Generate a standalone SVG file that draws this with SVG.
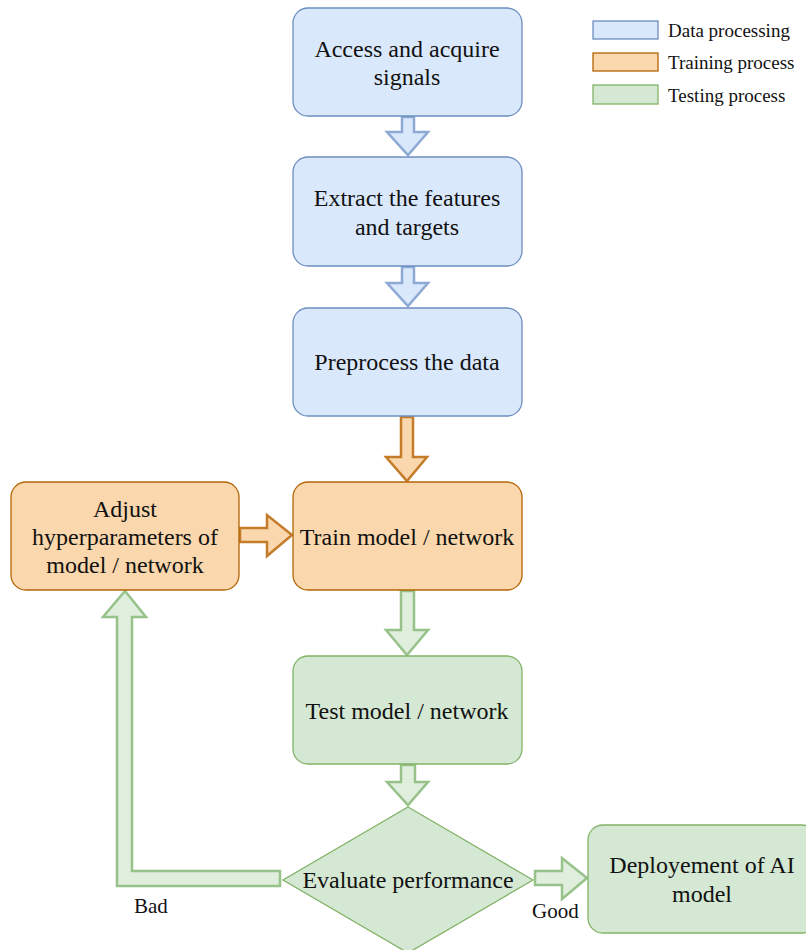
<svg xmlns="http://www.w3.org/2000/svg" width="806" height="950" viewBox="0 0 806 950">
  <style>
    text { font-family: "Liberation Serif", "Times New Roman", serif; fill: #111; }
    .lbl { font-size: 24px; text-anchor: middle; }
    .leg { font-size: 19px; }
    .edge { font-size: 21px; }
    .blue { fill: #dae8fc; stroke: #6c8ebf; stroke-width: 1.3; }
    .orange { fill: #fad7ac; stroke: #b46504; stroke-width: 1.3; }
    .green { fill: #d5e8d4; stroke: #82b366; stroke-width: 1.3; }
    .a-blue { fill: #dae8fc; stroke: #8ea9d4; stroke-width: 2.5; stroke-linejoin: miter; }
    .a-orange { fill: #fad7ac; stroke: #c47b2a; stroke-width: 2.5; stroke-linejoin: miter; }
    .a-green { fill: #dfeedd; stroke: #97c28a; stroke-width: 2.5; stroke-linejoin: miter; }
  </style>

  <!-- legend -->
  <g id="legend">
    <rect x="593" y="21" width="65" height="18" class="blue"/>
    <text x="668" y="37" class="leg">Data processing</text>
    <rect x="593" y="53" width="65" height="18" class="orange"/>
    <text x="668" y="69" class="leg">Training process</text>
    <rect x="593" y="85" width="65" height="19" class="green"/>
    <text x="668" y="102" class="leg">Testing process</text>
  </g>

  <!-- connectors: block arrows -->
  <g id="connectors">
    <path class="a-blue" d="M402,117 H414 V132 H428 L408,155 L387,132 H402 Z"/>
    <path class="a-blue" d="M402,267 H414 V283 H428 L408,306 L387,283 H402 Z"/>
    <path class="a-orange" d="M401,417 H413 V457 H427 L407,481 L386,457 H401 Z"/>
    <path class="a-orange" d="M240,528 H267 V515 L292,535 L267,556 V542 H240 Z"/>
    <path class="a-green" d="M401,591 H414 V630 H428 L407,655 L386,630 H401 Z"/>
    <path class="a-green" d="M401,765 H415 V782 H428 L408,805 L387,782 H401 Z"/>
    <path class="a-green" d="M280,871 H132 V617 H146 L125,591 L103,617 H117 V886 H280 Z"/>
    <path class="a-green" d="M535,871 H562 V858 L587,878 L562,899 V885 H535 Z"/>
  </g>

  <!-- nodes -->
  <g id="n-access">
    <rect x="293" y="8" width="229" height="108" rx="15" class="blue"/>
    <text x="407" y="57" class="lbl">Access and acquire</text>
    <text x="407" y="85" class="lbl">signals</text>
  </g>
  <g id="n-extract">
    <rect x="293" y="157" width="229" height="109" rx="15" class="blue"/>
    <text x="407" y="206" class="lbl">Extract the features</text>
    <text x="407" y="235" class="lbl">and targets</text>
  </g>
  <g id="n-preprocess">
    <rect x="293" y="308" width="229" height="108" rx="15" class="blue"/>
    <text x="407" y="370" class="lbl">Preprocess the data</text>
  </g>
  <g id="n-adjust">
    <rect x="11" y="482" width="228" height="108" rx="15" class="orange"/>
    <text x="125" y="517" class="lbl">Adjust</text>
    <text x="125" y="545" class="lbl">hyperparameters of</text>
    <text x="125" y="573" class="lbl">model / network</text>
  </g>
  <g id="n-train">
    <rect x="293" y="482" width="229" height="108" rx="15" class="orange"/>
    <text x="407" y="545" class="lbl">Train model / network</text>
  </g>
  <g id="n-test">
    <rect x="293" y="656" width="229" height="108" rx="15" class="green"/>
    <text x="407" y="719" class="lbl">Test model / network</text>
  </g>
  <g id="n-evaluate">
    <path d="M408,807 L533,880 L408,953 L283,880 Z" class="green"/>
    <text x="408" y="888" class="lbl">Evaluate performance</text>
  </g>
  <g id="n-deploy">
    <rect x="588" y="825" width="229" height="108" rx="15" class="green"/>
    <text x="702" y="873" class="lbl">Deployement of AI</text>
    <text x="702" y="902" class="lbl">model</text>
  </g>

  <!-- edge labels -->
  <g id="edge-labels">
    <text x="134" y="913" class="edge">Bad</text>
    <text x="532" y="918" class="edge">Good</text>
  </g>
</svg>
